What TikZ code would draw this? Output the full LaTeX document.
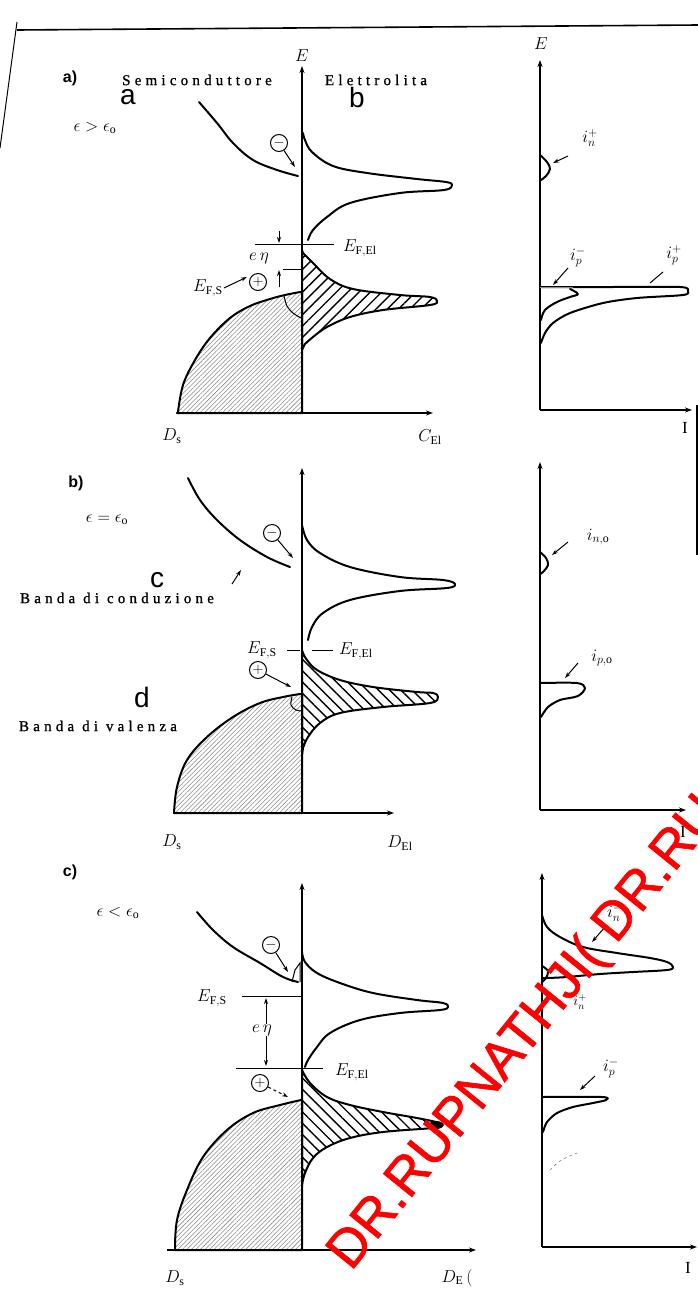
\documentclass[tikz,border=0pt]{standalone}
\usepackage{fontspec}
\setmainfont{Liberation Serif}
\newfontfamily\wmfont{Liberation Sans}
\newfontfamily\wmboldfont[FakeBold=1.2]{Liberation Sans}
\newfontfamily\spfont[LetterSpace=28,FakeBold=1]{Liberation Serif}
\usetikzlibrary{arrows.meta,patterns.meta}
\begin{document}
\begin{tikzpicture}[x=1pt,y=-1pt,
  curve/.style={line width=2pt,line join=round,line cap=round},
  axisline/.style={line width=1.4pt,-{Stealth[length=7pt,width=5pt]}},
  thinarrow/.style={line width=1pt,-{Stealth[length=6pt,width=4pt]}},
  lvl/.style={line width=1pt},
  scfill/.style={pattern={Lines[angle=45,distance=3.2pt,line width=0.55pt]},pattern color=black!45},
  elfillA/.style={pattern={Lines[angle=45,distance=8pt,line width=1.4pt]}},
  elfillB/.style={pattern={Lines[angle=-45,distance=8pt,line width=1.4pt]}},
  carrier/.style={circle,draw,line width=1pt,inner sep=0pt,minimum size=17pt,font=\fontsize{14}{14}\selectfont},
  lab/.style={font=\fontsize{17}{20}\selectfont,inner sep=1pt},
  smalllab/.style={font=\fontsize{14}{16}\selectfont,inner sep=1pt},
  biglet/.style={font=\wmfont\fontsize{28}{30}\selectfont,inner sep=0pt},
  sptext/.style={font=\spfont\fontsize{15}{18}\selectfont,inner sep=0pt},
  panellab/.style={font=\wmfont\bfseries\fontsize{16}{18}\selectfont,inner sep=0pt},
  wmark/.style={font=\wmboldfont\fontsize{53.5}{58}\selectfont,text=red,inner sep=0pt}
]
\useasboundingbox (0,0) rectangle (698,1296);
\fill[white] (0,0) rectangle (698,1296);
\clip (0,0) rectangle (698,1296);

% ---------- frame lines ----------
\coordinate (tl) at (17,30); \coordinate (tr) at (698,25);
\draw[line width=1.6pt] (tl) -- (tr);
\coordinate (sl1) at (17,22); \coordinate (sl2) at (0,148);
\draw[line width=1pt] (sl1) -- (sl2);
\coordinate (re1) at (697,405); \coordinate (re2) at (697,555);
\draw[line width=1.6pt] (re1) -- (re2);

% ================= PANEL A =================
\node[panellab] (pa) at (70,78) {a)};
\node[sptext] (semi) at (197,80) {Semiconduttore};
\node[sptext] (elet) at (376,80) {Elettrolita};
\node[biglet] (la) at (128,97) {a};
\node[biglet] (lb) at (357,97) {b};
\node[lab] (epsa) at (95,128) {$\epsilon > \epsilon_{\mathrm o}$};
% axes
\coordinate (aO) at (302,413); \coordinate (aT) at (302,66);
\coordinate (aL) at (177,413); \coordinate (aR) at (433,413);
\draw[axisline] (aO) -- (aT);
\draw[axisline] (aL) -- (aR);
\node[lab] (aE) at (302,56) {$E$};
\node[lab] (aDs) at (172,436) {$D_{\mathrm s}$};
\node[lab] (aCe) at (430,437) {$C_{\mathrm{El}}$};
% semiconductor valence band
\draw[curve,scfill] (177,413) -- plot[smooth,tension=0.6] coordinates {(178,412) (183,385) (195,360) (210,338) (230,318) (250,306) (270,299) (285,295) (300,292)} -- (302,292) -- (302,413) -- cycle;
\draw[line width=1pt] plot[smooth,tension=0.6] coordinates {(284,296) (287,306) (293,313) (301,318)};
% conduction band
\draw[curve] plot[smooth,tension=0.6] coordinates {(199,102) (217,123) (233,143) (253,160) (277,170) (298,176)};
\node[carrier] (amin) at (279,143) {$-$};
\coordinate (amint) at (295,167);
\draw[thinarrow] (amin) -- (amint);
% electrolyte empty states
\draw[curve] plot[smooth,tension=0.6] coordinates {(303,133) (305,140) (312,152) (333,166) (367,173) (417,179) (446,182) (452,185) (444,190) (400,193) (350,203) (327,217) (313,230) (308,240)};
% electrolyte occupied states
\draw[curve,elfillA] (302,250) -- plot[smooth,tension=0.6] coordinates {(303,253) (313,263) (330,279) (353,289) (400,295) (430,297) (437,301) (430,305) (383,310) (350,317) (327,327) (313,337) (305,344)} -- (302,350) -- cycle;
% Fermi levels
\coordinate (aEFl) at (255,244); \coordinate (aEFr) at (334,244);
\draw[lvl] (aEFl) -- (aEFr);
\node[lab,anchor=west] (aEFEl) at (342,248) {$E_{\mathrm{F,El}}$};
\coordinate (aSl) at (283,269); \coordinate (aSr) at (302,269);
\draw[lvl] (aSl) -- (aSr);
\coordinate (aq1) at (279,231); \coordinate (aq2) at (279,243);
\draw[thinarrow] (aq1) -- (aq2);
\coordinate (aq3) at (279,287); \coordinate (aq4) at (279,270);
\draw[thinarrow] (aq3) -- (aq4);
\node[lab] (aeta) at (259,258) {$e\,\eta$};
\node[lab] (aEFS) at (208,288) {$E_{\mathrm{F,S}}$};
\coordinate (aEFSt) at (247,277);
\draw[thinarrow] (aEFS.east) -- (aEFSt);
\node[carrier] (aplus) at (258,282) {$+$};
% right graph a
\coordinate (rO) at (540,410); \coordinate (rT) at (540,60); \coordinate (rR) at (692,410);
\draw[axisline] (rO) -- (rT);
\draw[axisline] (rO) -- (rR);
\node[lab] (rE) at (541,44) {$E$};
\node[lab] (rI) at (685,428) {I};
\draw[curve] plot[smooth,tension=0.6] coordinates {(540,155) (547,162) (550,169) (546,176) (541,180)};
\node[lab] (inp) at (590,138) {$i_n^{+}$};
\coordinate (inps) at (568,156); \coordinate (inpt) at (553,163);
\draw[thinarrow] (inps) -- (inpt);
\draw[curve] plot[smooth,tension=0.5] coordinates {(540,287) (610,287) (680,287) (688,291) (683,295) (637,298) (603,303) (570,313) (553,323) (545,333) (541,343)};
\draw[line width=1pt,black!45] (540,287) -- (573,287);
\draw[curve] plot[smooth,tension=0.6] coordinates {(570,289) (578,294) (570,297) (557,302) (545,310) (541,320)};
\node[lab] (ipm) at (578,257) {$i_p^{-}$};
\coordinate (ipms) at (568,268); \coordinate (ipmt) at (553,285);
\draw[thinarrow] (ipms) -- (ipmt);
\node[lab] (ipp) at (674,255) {$i_p^{+}$};
\coordinate (ipps) at (663,272); \coordinate (ippt) at (650,283);
\draw[line width=1pt] (ipps) -- (ippt);

% ================= PANEL B =================
\node[panellab] (pb) at (76,483) {b)};
\node[lab] (epsb) at (107,520) {$\epsilon = \epsilon_{\mathrm o}$};
\node[biglet] (lc) at (157,580) {c};
\node[sptext] (bcond) at (117,598) {Banda di conduzione};
\node[biglet] (ld) at (142,697) {d};
\node[sptext] (bval) at (98,726) {Banda di valenza};
\coordinate (bO) at (302,813); \coordinate (bT) at (302,468);
\coordinate (bL) at (175,813); \coordinate (bR) at (394,813);
\draw[axisline] (bO) -- (bT);
\draw[axisline] (bL) -- (bR);
\node[lab] (bDs) at (172,842) {$D_{\mathrm s}$};
\node[lab] (bDe) at (400,843) {$D_{\mathrm{El}}$};
\draw[curve,scfill] (174,813) -- plot[smooth,tension=0.6] coordinates {(174,813) (177,787) (187,760) (207,737) (233,717) (260,703) (283,697) (300,694)} -- (302,694) -- (302,813) -- cycle;
\draw[line width=1pt] plot[smooth,tension=0.6] coordinates {(292,697) (291,705) (296,710) (302,711)};
\draw[curve] plot[smooth,tension=0.6] coordinates {(188,478) (200,500) (217,520) (240,540) (267,557) (290,567)};
\node[carrier] (bmin) at (272,533) {$-$};
\coordinate (bmint) at (293,558);
\draw[thinarrow] (bmin) -- (bmint);
\coordinate (bca) at (232,584); \coordinate (bcb) at (241,570);
\draw[thinarrow] (bca) -- (bcb);
\draw[curve] plot[smooth,tension=0.6] coordinates {(302,525) (307,540) (320,553) (350,567) (400,577) (443,580) (455,584) (447,588) (400,591) (350,600) (323,613) (312,627) (308,640)};
\draw[curve,elfillB] (302,650) -- plot[smooth,tension=0.6] coordinates {(303,653) (307,660) (317,670) (340,680) (373,687) (417,692) (433,693) (438,697) (430,703) (383,707) (340,713) (320,723) (308,737) (303,748)} -- (302,755) -- cycle;
\coordinate (bS1) at (287,650); \coordinate (bS2) at (300,650);
\draw[lvl] (bS1) -- (bS2);
\coordinate (bE1) at (312,650); \coordinate (bE2) at (333,650);
\draw[lvl] (bE1) -- (bE2);
\node[lab] (bEFS) at (262,650) {$E_{\mathrm{F,S}}$};
\node[lab,anchor=west] (bEFEl) at (338,651) {$E_{\mathrm{F,El}}$};
\node[carrier] (bplus) at (258,670) {$+$};
\coordinate (bplust) at (291,687);
\draw[thinarrow] (bplus) -- (bplust);
% right graph b
\coordinate (sO) at (540,810); \coordinate (sT) at (540,462); \coordinate (sR) at (686,810);
\draw[axisline] (sO) -- (sT);
\draw[axisline] (sO) -- (sR);
\node[lab] (sI) at (683,832) {I};
\draw[curve] plot[smooth,tension=0.6] coordinates {(540,552) (546,558) (548,565) (543,572) (540,574)};
\node[lab] (ino) at (598,537) {$i_{n,\mathrm o}$};
\coordinate (inos) at (568,542); \coordinate (inot) at (552,555);
\draw[thinarrow] (inos) -- (inot);
\draw[curve] plot[smooth,tension=0.5] coordinates {(540,683) (577,683) (585,688) (578,696) (560,700) (548,707) (541,717)};
\node[lab] (ipo) at (602,658) {$i_{p,\mathrm o}$};
\coordinate (ipos) at (578,663); \coordinate (ipot) at (565,678);
\draw[thinarrow] (ipos) -- (ipot);

% ================= PANEL C =================
\node[panellab] (pc) at (70,872) {c)};
\node[lab] (epsc) at (118,913) {$\epsilon < \epsilon_{\mathrm o}$};
\coordinate (cO) at (302,1250); \coordinate (cT) at (302,883);
\coordinate (cL) at (167,1250); \coordinate (cR) at (476,1250);
\draw[axisline] (cO) -- (cT);
\draw[axisline] (cL) -- (cR);
\node[lab] (cDs) at (175,1278) {$D_{\mathrm s}$};
\node[lab] (cDe) at (457,1278) {$D_{\mathrm E}\,($};
\draw[curve,scfill] (175,1250) -- plot[smooth,tension=0.6] coordinates {(175,1248) (177,1220) (187,1190) (203,1157) (227,1130) (253,1113) (280,1105) (301,1100)} -- (302,1100) -- (302,1250) -- cycle;
\draw[curve] plot[smooth,tension=0.6] coordinates {(197,912) (213,930) (233,947) (260,963) (283,977) (298,982)};
\draw[line width=1pt] (292,982) -- (295,970) -- (300,963) -- (300,982);
\node[carrier] (cmin) at (271,945) {$-$};
\coordinate (cmint) at (288,972);
\draw[thinarrow] (cmin) -- (cmint);
\draw[curve] plot[smooth,tension=0.6] coordinates {(302,952) (305,962) (317,973) (340,983) (373,993) (417,1000) (443,1003) (448,1007) (440,1010) (400,1013) (360,1020) (330,1033) (317,1047) (308,1060) (305,1067)};
\draw[curve,elfillB] (302,1068) -- plot[smooth,tension=0.6] coordinates {(302,1070) (310,1083) (327,1097) (350,1105) (383,1112) (417,1118) (440,1123) (442,1126) (433,1128) (383,1132) (350,1138) (327,1147) (313,1158) (305,1173) (302,1185)} -- cycle;
\fill (436,1125) ellipse [x radius=7pt, y radius=4pt];
\coordinate (cSl) at (242,996); \coordinate (cSr) at (302,996);
\draw[lvl] (cSl) -- (cSr);
\node[lab] (cEFS) at (212,998) {$E_{\mathrm{F,S}}$};
\coordinate (cEl) at (236,1068); \coordinate (cEr) at (323,1068);
\draw[lvl] (cEl) -- (cEr);
\node[lab,anchor=west] (cEFEl) at (334,1072) {$E_{\mathrm{F,El}}$};
\coordinate (ceta1) at (266,998); \coordinate (ceta2) at (266,1066);
\draw[line width=1pt,{Stealth[length=6pt,width=4pt]}-{Stealth[length=6pt,width=4pt]}] (ceta1) -- (ceta2);
\node[lab,fill=white] (ceta) at (262,1030) {$e\,\eta$};
\node[carrier] (cplus) at (260,1083) {$+$};
\coordinate (cplust) at (288,1097);
\draw[thinarrow,dashed] (cplus) -- (cplust);
% right graph c
\coordinate (uO) at (542,1247); \coordinate (uT) at (542,873); \coordinate (uR) at (697,1247);
\draw[axisline] (uO) -- (uT);
\draw[axisline] (uO) -- (uR);
\node[lab] (uI) at (688,1268) {I};
\draw[curve] plot[smooth,tension=0.6] coordinates {(542,915) (547,927) (560,937) (583,947) (617,953) (650,958) (667,962) (673,967) (667,970) (633,972) (600,974) (567,977) (547,978) (542,978)};
\draw[curve] plot[smooth,tension=0.6] coordinates {(542,966) (548,971) (546,978) (542,982)};
\node[lab] (inm) at (615,913) {$i_n^{-}$};
\coordinate (inms) at (605,927); \coordinate (inmt) at (592,942);
\draw[thinarrow] (inms) -- (inmt);
\node[smalllab] (inpc) at (580,1002) {$i_n^{+}$};
\draw[curve] plot[smooth,tension=0.5] coordinates {(542,1097) (602,1097) (606,1100) (593,1103) (573,1107) (557,1113) (547,1122) (543,1132)};
\node[lab] (ipmc) at (611,1068) {$i_p^{-}$};
\coordinate (ipmcs) at (595,1076); \coordinate (ipmct) at (580,1090);
\draw[thinarrow] (ipmcs) -- (ipmct);
\coordinate (fd1) at (550,1170); \coordinate (fd2) at (577,1153);
\draw[gray,dashed,line width=0.6pt] (fd1) .. controls (560,1160) .. (fd2);

% ---------- watermark ----------
\node[wmark,rotate=51,anchor=base west] (wmk) at (351,1272) {DR.RUPNATHJI( DR.RU};
\end{tikzpicture}
\end{document}
